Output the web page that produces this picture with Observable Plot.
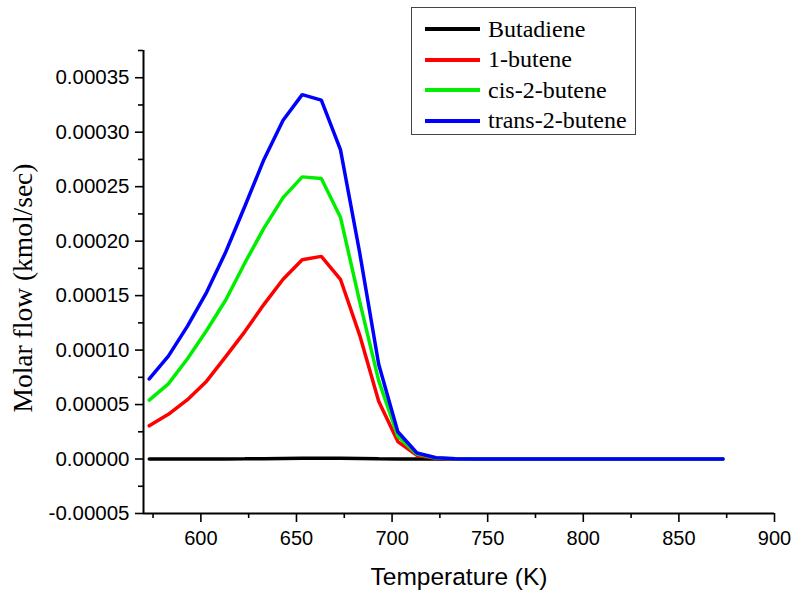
<!DOCTYPE html>
<html>
<head>
<meta charset="utf-8">
<script src="https://cdn.jsdelivr.net/npm/d3@7"></script>
<script src="https://cdn.jsdelivr.net/npm/@observablehq/plot@0.6"></script>
<style>
  html, body { margin: 0; padding: 0; background: #fff; }
  #wrap { position: relative; width: 795px; height: 596px; }
  #legend { position: absolute; left: 411px; top: 7px; width: 223px; height: 126px;
    border: 1px solid #444; background: #fff; box-sizing: content-box;
    font-family: "Liberation Serif", "Times New Roman", serif; font-size: 24px; color: #000; }
  .row { position: absolute; left: 0; height: 30px; display: flex; align-items: center; }
  .sw { display: inline-block; width: 55px; height: 4px; margin-left: 13px; margin-right: 8px; }
</style>
</head>
<body>
<div id="wrap"><div id="chart"></div><div id="legend"></div></div>
<script>
// Temperatures (K)
const temps = [573,583,593,603,613,623,633,643,653,663,673,683,693,703,713,723,733,743,753,763,773,783,793,803,813,823,833,843,853,863,873];
const seriesNames = ["Butadiene", "1-butene", "cis-2-butene", "trans-2-butene"];
const seriesColors = ["#000000", "#ff0000", "#00ee00", "#0000ff"];
// Molar flow (kmol/sec)
const butadiene = [0,0,0,0.00000005,0.0000001,0.0000002,0.0000003,0.0000005,0.0000007,0.0000008,0.0000007,0.0000005,0.0000002,0.0000001,0,0,0,0,0,0,0,0,0,0,0,0,0,0,0,0,0];
const butene1 = [0.0000305,0.000041,0.0000545,0.0000715,0.000094,0.000117,0.000142,0.000165,0.000183,0.000186,0.000165,0.000114,0.000053,0.000016,0.0000033,0.0000007,0.0000001,0,0,0,0,0,0,0,0,0,0,0,0,0,0];
const cis2butene = [0.000054,0.000069,0.000092,0.000118,0.000146,0.00018,0.000212,0.00024,0.000259,0.0002575,0.000222,0.000145,0.000072,0.000021,0.0000045,0.000001,0.0000002,0,0,0,0,0,0,0,0,0,0,0,0,0,0];
const trans2butene = [0.0000735,0.0000945,0.000122,0.000153,0.00019,0.000232,0.000275,0.000311,0.0003345,0.0003295,0.000284,0.00019,0.000087,0.000025,0.0000055,0.0000012,0.0000003,0.0000001,0,0,0,0,0,0,0,0,0,0,0,0,0];
const xMajor = [600, 650, 700, 750, 800, 850, 900];
const xMinor = [575, 625, 675, 725, 775, 825, 875];
const yMajor = [-1,0,1,2,3,4,5,6,7].map(i => i * 0.00005);
const yMinor = [-0.5,0.5,1.5,2.5,3.5,4.5,5.5,6.5,7.5].map(i => i * 0.00005);

const allSeries = [butadiene, butene1, cis2butene, trans2butene];
const data = [];
allSeries.forEach((vals, si) => vals.forEach((v, i) => data.push({T: temps[i], v, s: seriesNames[si]})));

const sans = "'Liberation Sans', Arial, sans-serif";
const serif = "'Liberation Serif', 'Times New Roman', serif";

const chart = Plot.plot({
  width: 795, height: 596,
  marginLeft: 143, marginRight: 21, marginTop: 50, marginBottom: 83,
  style: { fontFamily: sans, background: "#fff", color: "#000" },
  x: { domain: [570, 900] },
  y: { domain: [-0.00005, 0.000375] },
  color: { domain: seriesNames, range: seriesColors },
  marks: [
    Plot.ruleX([570], { stroke: "#000", strokeWidth: 2 }),
    Plot.ruleY([-0.00005], { stroke: "#000", strokeWidth: 2 }),
    Plot.axisX({ ticks: xMajor, tickSize: 9, tickPadding: 8, fontSize: 20, strokeWidth: 1.6, label: null, tickFormat: d => String(d) }),
    Plot.axisX({ ticks: xMinor, tickSize: 5, strokeWidth: 1.6, label: null, tickFormat: () => "" }),
    Plot.axisY({ ticks: yMajor, tickSize: 8, tickPadding: 6, fontSize: 20.5, strokeWidth: 1.6, label: null, tickFormat: d => d.toFixed(5) }),
    Plot.axisY({ ticks: yMinor, tickSize: 5, strokeWidth: 1.6, label: null, tickFormat: () => "" }),
    Plot.line(data, { x: "T", y: "v", z: "s", stroke: "s", strokeWidth: 3.5, strokeLinejoin: "miter" }),
    Plot.text(["Temperature (K)"], { frameAnchor: "bottom", dy: 64, textAnchor: "middle", lineAnchor: "middle", fontSize: 24.5, fontFamily: sans, fill: "#000" }),
    Plot.text(["Molar flow (kmol/sec)"], { frameAnchor: "left", rotate: -90, dx: -120, dy: 6, textAnchor: "middle", lineAnchor: "middle", fontSize: 27.5, fontFamily: serif, fill: "#000" })
  ]
});
document.getElementById("chart").appendChild(chart);

const legend = document.getElementById("legend");
seriesNames.forEach((name, i) => {
  const row = document.createElement("div");
  row.className = "row";
  row.style.top = (6 + i * 30.5) + "px";
  const sw = document.createElement("span");
  sw.className = "sw";
  sw.style.background = seriesColors[i];
  const tx = document.createElement("span");
  tx.textContent = name;
  row.appendChild(sw); row.appendChild(tx);
  legend.appendChild(row);
});
</script>
</body>
</html>
